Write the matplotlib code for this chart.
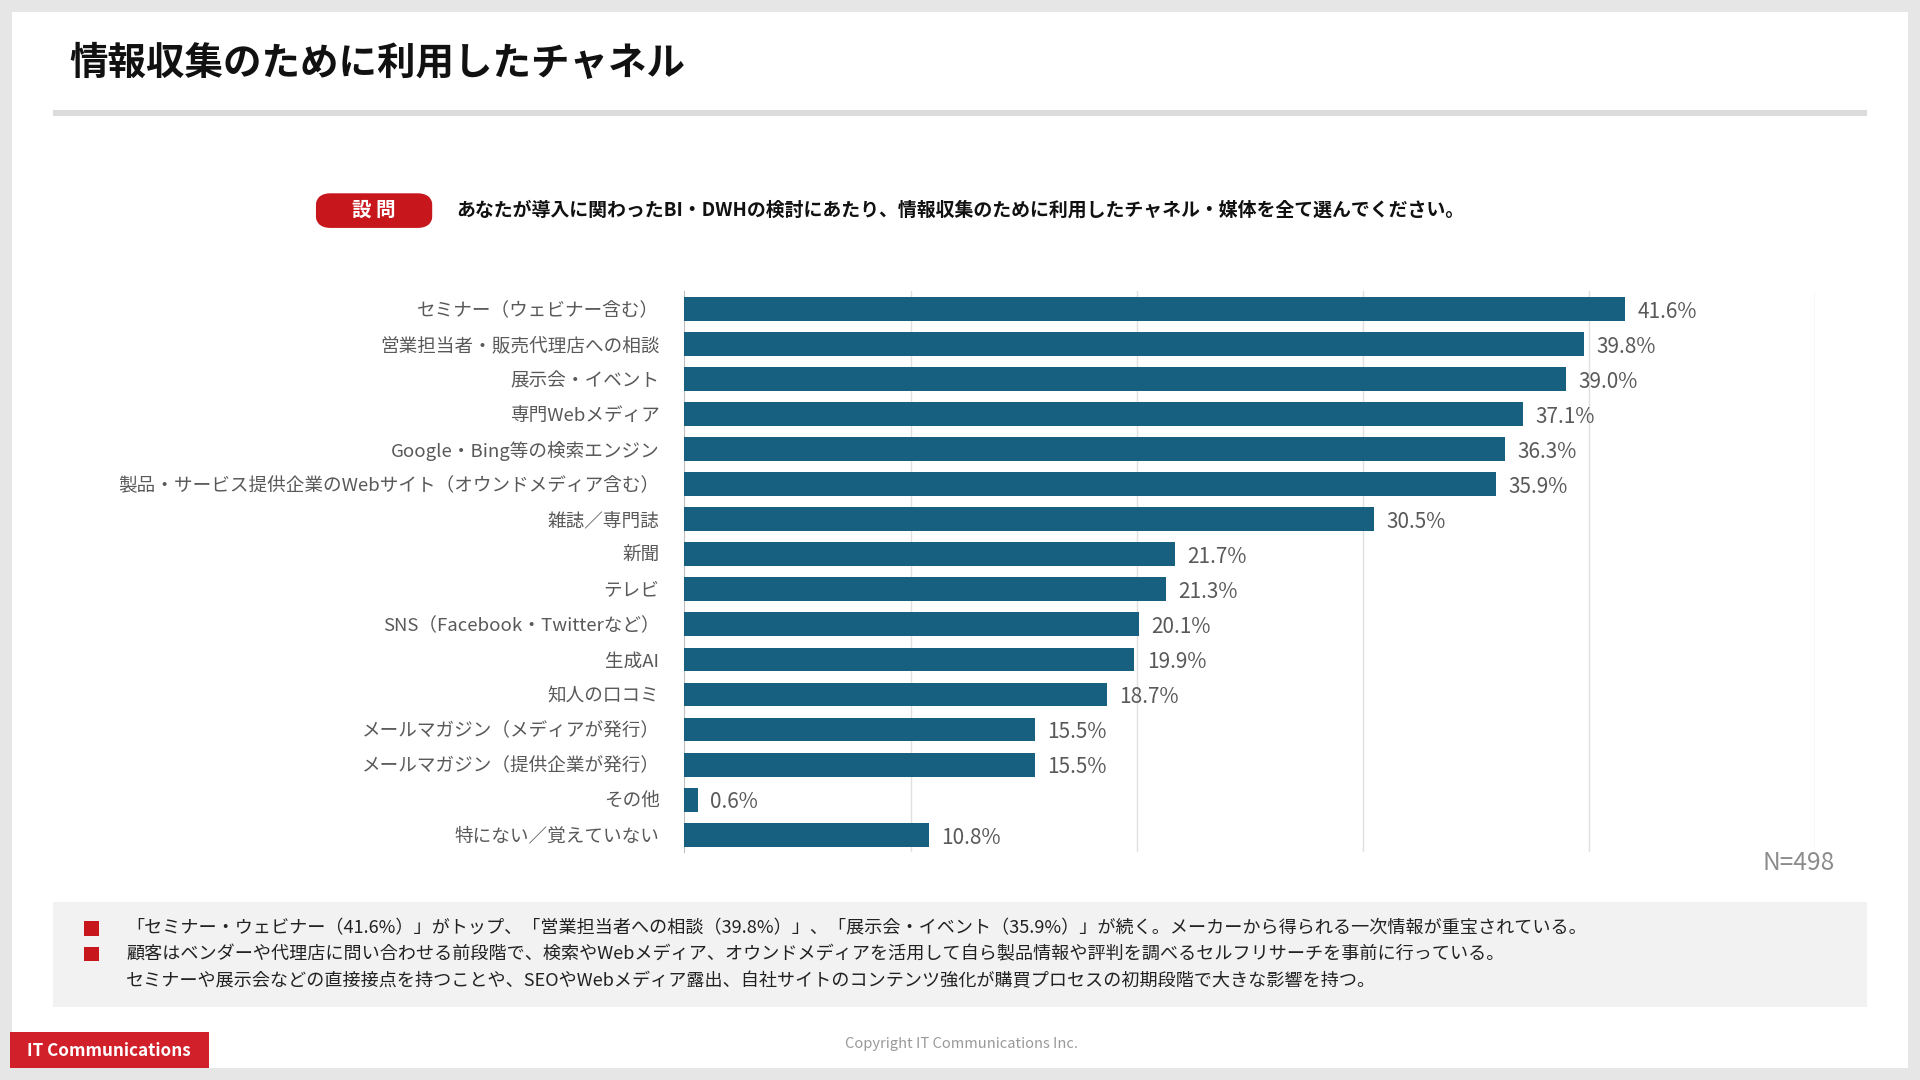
import matplotlib
matplotlib.use("Agg")
import matplotlib.pyplot as plt
from matplotlib.patches import Rectangle, FancyBboxPatch

plt.rcParams['font.family'] = ['Noto Sans CJK JP', 'DejaVu Sans']

categories = ["セミナー（ウェビナー含む）", "営業担当者・販売代理店への相談", "展示会・イベント", "専門Webメディア",
              "Google・Bing等の検索エンジン", "製品・サービス提供企業のWebサイト（オウンドメディア含む）",
              "雑誌／専門誌", "新聞", "テレビ", "SNS（Facebook・Twitterなど）", "生成AI", "知人の口コミ",
              "メールマガジン（メディアが発行）", "メールマガジン（提供企業が発行）", "その他", "特にない／覚えていない"]
values = [41.6, 39.8, 39.0, 37.1, 36.3, 35.9, 30.5, 21.7, 21.3, 20.1, 19.9, 18.7, 15.5, 15.5, 0.6, 10.8]

W, H = 1568, 882
def fx(x): return x / W
def fy(y): return 1 - y / H
S = 0.88  # ref px -> pt

fig = plt.figure(figsize=(19.2, 10.8), dpi=100)
fig.patch.set_facecolor('#e6e6e6')
fig.add_artist(Rectangle((fx(10), fy(872)), fx(1548), 862 / H, transform=fig.transFigure, facecolor='white', edgecolor='none', zorder=-5))

fig.text(fx(57), fy(52), "情報収集のために利用したチャネル", fontsize=31.5 * S, fontweight='bold', va='center', color='#111111')
fig.add_artist(Rectangle((fx(43), fy(95)), fx(1482), 5 / H, transform=fig.transFigure, facecolor='#dcdcdc', edgecolor='none'))

fig.add_artist(FancyBboxPatch((fx(259) + 0.003, fy(184) + 0.004), fx(93) - 0.006, 24 / H - 0.008, boxstyle="round,pad=0,rounding_size=0.004",
                              transform=fig.transFigure, facecolor='#c8161d', edgecolor='#c8161d', linewidth=10,
                              joinstyle='round'))
fig.text(fx(305), fy(172), "設 問", fontsize=16 * S, fontweight='bold', color='white', ha='center', va='center')
fig.text(fx(373), fy(172), "あなたが導入に関わったBI・DWHの検討にあたり、情報収集のために利用したチャネル・媒体を全て選んでください。",
         fontsize=15.5 * S, fontweight='bold', va='center', color='#111111')

ax = fig.add_axes([fx(559), fy(696), fx(1482 - 559), (696 - 238) / H])
ax.set_facecolor('none')
y = list(range(len(categories)))
ax.barh(y, values, height=0.68, color='#17607f', zorder=3)
ax.set_xlim(0, 50)
ax.set_ylim(len(categories) - 0.5, -0.5)
ax.set_yticks(y)
ax.set_yticklabels(categories, fontsize=15.2 * S, color='#595959')
ax.tick_params(axis='y', length=0, pad=18)
ax.set_xticks([10, 20, 30, 40, 50])
ax.tick_params(axis='x', length=0, labelbottom=False)
ax.grid(axis='x', color='#e0e0e0', linewidth=1, zorder=0)
for s in ['top', 'right', 'bottom']:
    ax.spines[s].set_visible(False)
ax.spines['left'].set_color('#bfbfbf')
for yi, v in zip(y, values):
    ax.text(v + 0.55, yi + 0.08, f"{v:.1f}%", va='center', ha='left', fontsize=17 * S, color='#595959')

fig.text(fx(1498), fy(705), "N=498", fontsize=20 * S, color='#8c8c8c', ha='right', va='center')

fig.add_artist(Rectangle((fx(43), fy(822)), fx(1482), 85 / H, transform=fig.transFigure, facecolor='#f2f2f2', edgecolor='none', zorder=-4))
notes = [(758, "「セミナー・ウェビナー（41.6%）」がトップ、「営業担当者への相談（39.8%）」、「展示会・イベント（35.9%）」が続く。メーカーから得られる一次情報が重宝されている。", True),
         (779, "顧客はベンダーや代理店に問い合わせる前段階で、検索やWebメディア、オウンドメディアを活用して自ら製品情報や評判を調べるセルフリサーチを事前に行っている。", True),
         (801, "セミナーや展示会などの直接接点を持つことや、SEOやWebメディア露出、自社サイトのコンテンツ強化が購買プロセスの初期段階で大きな影響を持つ。", False)]
for yy, t, sq in notes:
    if sq:
        fig.add_artist(Rectangle((fx(69), fy(yy + 6)), fx(12), 12 / H, transform=fig.transFigure, facecolor='#c8161d', edgecolor='none'))
    fig.text(fx(103), fy(yy), t, fontsize=14.8 * S, va='center', color='#222222')

fig.add_artist(Rectangle((fx(8), fy(872)), fx(163), 29 / H, transform=fig.transFigure, facecolor='#d2202a', edgecolor='none'))
fig.text(fx(89), fy(858), "IT Communications", fontsize=14 * S, color='white', ha='center', va='center', fontweight='bold')
fig.text(fx(785), fy(853), "Copyright IT Communications Inc.", fontsize=12 * S, color='#999999', ha='center', va='center')

fig.savefig("out.png", dpi=100, facecolor=fig.get_facecolor())
